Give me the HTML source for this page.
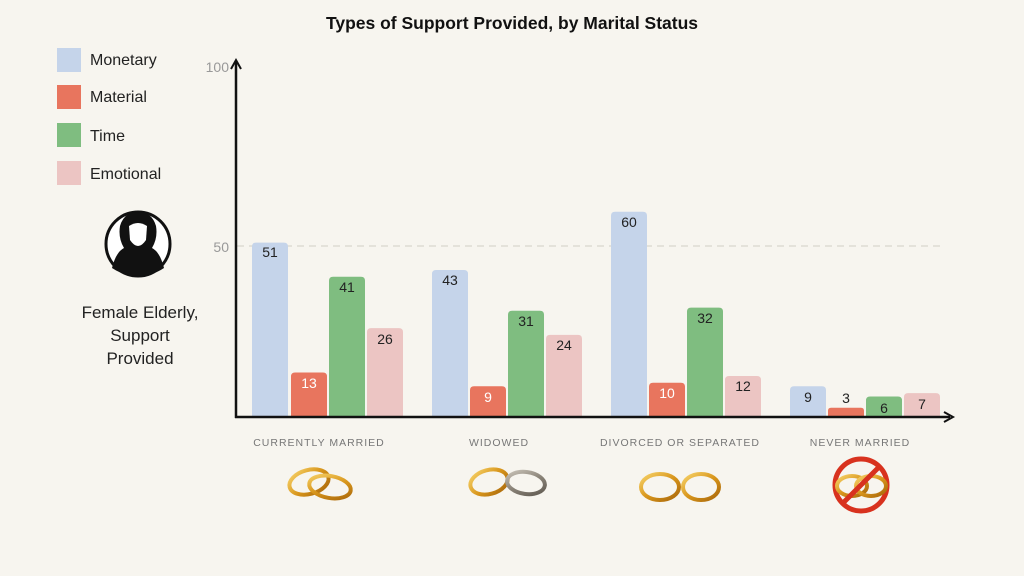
<!DOCTYPE html>
<html><head><meta charset="utf-8"><style>
body{margin:0;background:#f7f5ef;}
svg{display:block;font-family:"Liberation Sans",sans-serif;}
</style></head><body>
<svg width="1024" height="576" viewBox="0 0 1024 576" xmlns="http://www.w3.org/2000/svg">
<rect width="1024" height="576" fill="#f7f5ef"/>
<defs>
<linearGradient id="g" x1="0" y1="0" x2="1" y2="1"><stop offset="0" stop-color="#f7d36a"/><stop offset="0.5" stop-color="#d8961c"/><stop offset="1" stop-color="#a8660a"/></linearGradient>
<linearGradient id="s" x1="0" y1="0" x2="1" y2="1"><stop offset="0" stop-color="#ccc6bb"/><stop offset="0.5" stop-color="#8a8378"/><stop offset="1" stop-color="#5e584f"/></linearGradient>
</defs>
<text x="512" y="29" text-anchor="middle" font-size="17.5" font-weight="bold" fill="#111">Types of Support Provided, by Marital Status</text>
<!-- legend -->
<rect x="57" y="48" width="24" height="24" fill="#c5d4ea"/><text x="90" y="65" font-size="16" fill="#222">Monetary</text>
<rect x="57" y="85" width="24" height="24" fill="#e8755e"/><text x="90" y="102" font-size="16" fill="#222">Material</text>
<rect x="57" y="123" width="24" height="24" fill="#7fbd80"/><text x="90" y="141" font-size="16" fill="#222">Time</text>
<rect x="57" y="161" width="24" height="24" fill="#ecc5c3"/><text x="90" y="179" font-size="16" fill="#222">Emotional</text>
<!-- avatar -->
<circle cx="138" cy="244" r="32" fill="#fff" stroke="#111" stroke-width="3"/>
<path d="M112 268 Q116 252 124 248 Q118 238 120 226 Q124 212 138 212 Q152 212 156 226 Q158 238 152 248 Q160 252 164 268 Q152 276 138 276 Q124 276 112 268Z" fill="#111"/>
<path d="M129 226 Q138 220 147 226 L146 240 Q138 252 130 240Z" fill="#fff"/>
<text x="140" y="318" text-anchor="middle" font-size="17" fill="#222">Female Elderly,</text>
<text x="140" y="341" text-anchor="middle" font-size="17" fill="#222">Support</text>
<text x="140" y="364" text-anchor="middle" font-size="17" fill="#222">Provided</text>
<!-- grid -->
<line x1="237" y1="246" x2="945" y2="246" stroke="#dedbd3" stroke-width="1.5" stroke-dasharray="7,5"/>
<text x="229" y="72" text-anchor="end" font-size="14" fill="#999">100</text>
<text x="229" y="252" text-anchor="end" font-size="14" fill="#999">50</text>
<g font-size="14" text-anchor="middle">
<path d="M252 417V246.6q0-4 4-4h28q4 0 4 4V417Z" fill="#c5d4ea"/><text x="270" y="257" fill="#222">51</text>
<path d="M291 417V376.5q0-4 4-4h28q4 0 4 4V417Z" fill="#e8755e"/><text x="309" y="388" fill="#fff">13</text>
<path d="M329 417V280.8q0-4 4-4h28q4 0 4 4V417Z" fill="#7fbd80"/><text x="347" y="292" fill="#222">41</text>
<path d="M367 417V332.1q0-4 4-4h28q4 0 4 4V417Z" fill="#ecc5c3"/><text x="385" y="344" fill="#222">26</text>
<path d="M432 417V274q0-4 4-4h28q4 0 4 4V417Z" fill="#c5d4ea"/><text x="450" y="285" fill="#222">43</text>
<path d="M470 417V390.2q0-4 4-4h28q4 0 4 4V417Z" fill="#e8755e"/><text x="488" y="402" fill="#fff">9</text>
<path d="M508 417V314.8q0-4 4-4h28q4 0 4 4V417Z" fill="#7fbd80"/><text x="526" y="326" fill="#222">31</text>
<path d="M546 417V338.9q0-4 4-4h28q4 0 4 4V417Z" fill="#ecc5c3"/><text x="564" y="350" fill="#222">24</text>
<path d="M611 417V215.8q0-4 4-4h28q4 0 4 4V417Z" fill="#c5d4ea"/><text x="629" y="227" fill="#222">60</text>
<path d="M649 417V386.8q0-4 4-4h28q4 0 4 4V417Z" fill="#e8755e"/><text x="667" y="398" fill="#fff">10</text>
<path d="M687 417V311.6q0-4 4-4h28q4 0 4 4V417Z" fill="#7fbd80"/><text x="705" y="323" fill="#222">32</text>
<path d="M725 417V380q0-4 4-4h28q4 0 4 4V417Z" fill="#ecc5c3"/><text x="743" y="391" fill="#222">12</text>
<path d="M790 417V390.2q0-4 4-4h28q4 0 4 4V417Z" fill="#c5d4ea"/><text x="808" y="402" fill="#222">9</text>
<path d="M828 417V410.7q0-3 3-3h30q3 0 3 3V417Z" fill="#e8755e"/><text x="846" y="403" fill="#222">3</text>
<path d="M866 417V400.5q0-4 4-4h28q4 0 4 4V417Z" fill="#7fbd80"/><text x="884" y="413" fill="#222">6</text>
<path d="M904 417V397.1q0-4 4-4h28q4 0 4 4V417Z" fill="#ecc5c3"/><text x="922" y="409" fill="#222">7</text>
</g>
<!-- axes -->
<line x1="236" y1="62" x2="236" y2="418" stroke="#111" stroke-width="2.5"/>
<path d="M231 69 L236 60 L241 69" fill="none" stroke="#111" stroke-width="2"/>
<line x1="235" y1="417" x2="950" y2="417" stroke="#111" stroke-width="2.5"/>
<path d="M944 412 L953 417 L944 422" fill="none" stroke="#111" stroke-width="2"/>
<g font-size="10.5" fill="#777" text-anchor="middle" letter-spacing="1">
<text x="319" y="446">CURRENTLY MARRIED</text>
<text x="499" y="446">WIDOWED</text>
<text x="680" y="446">DIVORCED OR SEPARATED</text>
<text x="860" y="446">NEVER MARRIED</text>
</g>
<g fill="none" stroke-width="4">
<ellipse cx="309" cy="482" rx="20" ry="12" stroke="url(#g)" transform="rotate(-15 309 482)"/>
<ellipse cx="330" cy="487" rx="21" ry="11" stroke="url(#g)" transform="rotate(10 330 487)"/>
<ellipse cx="489" cy="482" rx="19" ry="12" stroke="url(#g)" transform="rotate(-15 489 482)"/>
<ellipse cx="526" cy="483" rx="19" ry="11" stroke="url(#s)" transform="rotate(8 526 483)"/>
<ellipse cx="660" cy="487" rx="19" ry="13" stroke="url(#g)"/>
<ellipse cx="701" cy="487" rx="18" ry="13" stroke="url(#g)"/>
<circle cx="861" cy="485" r="26" stroke="#d8321e" stroke-width="5"/>
<ellipse cx="852" cy="486" rx="15" ry="10" stroke="url(#g)"/>
<ellipse cx="871" cy="486" rx="15" ry="10" stroke="url(#g)"/>
<line x1="843" y1="503" x2="879" y2="467" stroke="#d8321e" stroke-width="5"/>
</g>
</svg>
</body></html>
